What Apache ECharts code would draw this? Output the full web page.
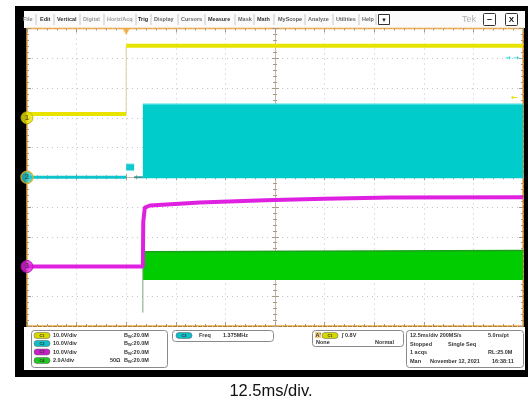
<!DOCTYPE html>
<html>
<head>
<meta charset="utf-8">
<script src="https://cdn.jsdelivr.net/npm/echarts@6/dist/echarts.min.js"></script>
<style>html,body{margin:0;padding:0;background:#fff}#c{width:530px;height:402px}</style>
</head>
<body>
<div id="c"></div>
<script>
// ---- Data (time in ms, 12.5 ms/div, trigger at t = 0) ----
const timeTicks = [-25, -12.5, 0, 12.5, 25, 37.5, 50, 62.5, 75, 87.5, 100];
// CH1 (yellow, 10 V/div)
const ch1PreTime = [-25, 0];
const ch1PreVolts = [1.3, 1.3];
const ch1PostTime = [0, 100];
const ch1PostVolts = [24.2, 24.2];
const ch1EdgeTime = [0, 0];
const ch1EdgeVolts = [1.3, 24.2];
// CH2 (cyan, 10 V/div) switching node
const ch2PreTime = [-25, 0];
const ch2PreVolts = [0, 0];
const ch2BurstTime = [0, 2];
const ch2BurstHigh = [4.4, 4.4];
const ch2BurstLow = 2.3;
const ch2GapTime = [2, 4.2];
const ch2GapVolts = [0, 0];
const ch2BandTime = [4.2, 100];
const ch2BandHigh = [24.5, 24.5];
const ch2BandLow = -0.3;
// CH3 (magenta, 10 V/div) output voltage
const ch3Time = [-25, 4.2, 4.3, 4.7, 6, 18.6, 35, 50, 66.5, 100];
const ch3Volts = [0, 0, 15, 19.8, 20.5, 21.5, 22.3, 22.8, 23.2, 23.3];
// CH4 (green, 2 A/div) current
const ch4BandTime = [4.2, 100];
const ch4BandHigh = [1.0, 1.07];
const ch4BandLow = -0.9;
const ch4SpikeTime = [4.2, 4.2];
const ch4SpikeAmps = [-3.1, 1.3];

const zip = (a, b) => a.map((v, i) => [v, b[i]]);

const tickColor = '#a89888';
const gridDot = '#c4c4c4';
const orange = '#f2a63a';

function tickAxis(extra) {
  return Object.assign({
    type: 'value', min: 0, max: 10, interval: 1,
    axisLabel: { show: false },
    axisLine: { show: false, onZero: false },
    axisTick: { show: true, inside: true, length: 4, lineStyle: { color: tickColor } },
    minorTick: { show: true, splitNumber: 5, length: 2, lineStyle: { color: tickColor } },
    splitLine: { show: false }
  }, extra);
}
function chanAxis(min, max) {
  return { type: 'value', min: min, max: max, show: false, axisLine: { onZero: false }, splitLine: { show: false } };
}

const menu = [
  ['File', 23, '#888'], ['Edit', 40, '#333'], ['Vertical', 57, '#333'], ['Digital', 83, '#999'],
  ['Horiz/Acq', 107, '#999'], ['Trig', 138, '#222'], ['Display', 154, '#666'], ['Cursors', 181, '#666'],
  ['Measure', 208, '#333'], ['Mask', 238, '#666'], ['Math', 257, '#333'], ['MyScope', 278, '#555'],
  ['Analyze', 308, '#666'], ['Utilities', 336, '#666'], ['Help', 362, '#666']
];
const seps = [36, 54, 80, 104, 136, 151, 178, 205, 235, 254, 274, 305, 333, 359, 376];

const g = [];
g.push({ type: 'rect', z: -100, shape: { x: 15, y: 6, width: 513, height: 371 }, style: { fill: '#000' } });
g.push({ type: 'rect', z: -99, shape: { x: 24, y: 11, width: 501, height: 17 }, style: { fill: '#fbfbfb' } });
g.push({ type: 'rect', z: -99, shape: { x: 24, y: 327, width: 501, height: 43 }, style: { fill: '#fff' } });
menu.forEach(m => g.push({ type: 'text', z: 10, x: m[1], y: 19.5, style: { text: m[0], fill: m[2], font: 'bold 5.5px "Liberation Sans"', verticalAlign: 'middle' } }));
seps.forEach(x => g.push({ type: 'line', z: 10, shape: { x1: x, y1: 14, x2: x, y2: 25 }, style: { stroke: '#c8c8c8', lineWidth: 1 } }));
g.push({ type: 'rect', z: 10, shape: { x: 378.5, y: 14.5, width: 11, height: 10 }, style: { fill: '#fff', stroke: '#333', lineWidth: 1 } });
g.push({ type: 'text', z: 11, x: 384, y: 20, style: { text: '▾', fill: '#222', font: '7px "DejaVu Sans"', align: 'center', verticalAlign: 'middle' } });
g.push({ type: 'text', z: 10, x: 462, y: 19.5, style: { text: 'Tek', fill: '#b0b0b0', font: '9px "Liberation Sans"', verticalAlign: 'middle' } });
g.push({ type: 'rect', z: 10, shape: { x: 483.5, y: 13.5, width: 12, height: 12, r: 1 }, style: { fill: '#fff', stroke: '#333', lineWidth: 1 } });
g.push({ type: 'text', z: 11, x: 489.5, y: 20, style: { text: '–', fill: '#111', font: 'bold 9px "Liberation Sans"', align: 'center', verticalAlign: 'middle' } });
g.push({ type: 'rect', z: 10, shape: { x: 505.5, y: 13.5, width: 12, height: 12, r: 1 }, style: { fill: '#fff', stroke: '#333', lineWidth: 1 } });
g.push({ type: 'text', z: 11, x: 511.5, y: 19.5, style: { text: 'X', fill: '#111', font: 'bold 8px "Liberation Sans"', align: 'center', verticalAlign: 'middle' } });
// right-edge indicators
g.push({ type: 'text', z: 10, x: 505, y: 58, style: { text: '→ →', fill: '#20d0e0', font: 'bold 7px "DejaVu Sans"', verticalAlign: 'middle' } });
g.push({ type: 'text', z: 10, x: 511, y: 98, style: { text: '←', fill: '#e8e000', font: 'bold 8px "DejaVu Sans"', verticalAlign: 'middle' } });
// bottom panel boxes
const box = (x, y, w, h) => g.push({ type: 'rect', z: 10, shape: { x: x + 0.5, y: y + 0.5, width: w, height: h, r: 3 }, style: { fill: '#fff', stroke: '#8a8a8a', lineWidth: 1 } });
box(31, 330, 136, 37); box(172, 330, 101, 11); box(312, 330, 91, 16); box(406, 330, 117, 37);
const txt = (x, y, t, extra) => g.push({ type: 'text', z: 12, x: x, y: y, style: Object.assign({ text: t, fill: '#333', font: 'bold 5.5px "Liberation Sans"', verticalAlign: 'middle' }, extra || {}) });
const badge = (x, y, fill, label) => {
  g.push({ type: 'rect', z: 11, shape: { x: x, y: y - 3, width: 16, height: 6, r: 3 }, style: { fill: fill, stroke: '#555', lineWidth: 0.5 } });
  g.push({ type: 'text', z: 12, x: x + 8, y: y, style: { text: label, fill: '#333', font: 'bold 4px "Liberation Sans"', align: 'center', verticalAlign: 'middle' } });
};
const bwText = (x, y) => g.push({ type: 'text', z: 12, x: x, y: y, style: { text: '{a|B}{s|W}{a|:20.0M}', verticalAlign: 'middle', rich: { a: { fill: '#333', font: 'bold 5.5px "Liberation Sans"' }, s: { fill: '#333', font: 'bold 4px "Liberation Sans"', padding: [3, 0, 0, 0] } } } });
const rows = [335.5, 343.5, 352, 360.5];
const chCols = ['#d8d800', '#10c0c8', '#c820c8', '#20c820'];
const chScale = ['10.0V/div', '10.0V/div', '10.0V/div', '2.0A/div'];
rows.forEach((y, i) => { badge(34, y, chCols[i], 'C' + (i + 1)); txt(53, y, chScale[i]); bwText(124, y); });
txt(110, 360.5, '50Ω');
badge(176, 335.5, '#10c0c8', 'C2'); txt(199, 335.5, 'Freq'); txt(223, 335.5, '1.375MHz');
g.push({ type: 'rect', z: 11, shape: { x: 315, y: 332, width: 6, height: 6 }, style: { fill: '#f4d080' } });
txt(315.5, 335.5, "A'"); badge(322, 335.5, '#d8d800', 'C1'); txt(342, 335.5, '∫ 0.8V');
txt(316, 342, 'None'); txt(375, 342, 'Normal');
txt(410, 335.5, '12.5ms/div 200MS/s'); txt(488, 335.5, '5.0ns/pt');
txt(410, 344, 'Stopped'); txt(448, 344, 'Single Seq');
txt(410, 352.5, '1 acqs'); txt(488, 352.5, 'RL:25.0M');
txt(410, 361, 'Man'); txt(430, 361, 'November 12, 2021'); txt(492, 361, '16:38:11');
// caption
g.push({ type: 'text', z: 10, x: 271, y: 391, style: { text: '12.5ms/div.', fill: '#111', font: '16.5px "Liberation Sans"', align: 'center', verticalAlign: 'middle' } });

const chart = echarts.init(document.getElementById('c'), null, { renderer: 'canvas' });
chart.setOption({
  animation: false,
  backgroundColor: '#fff',
  grid: { left: 27, top: 28.5, width: 496, height: 297.5, show: true, backgroundColor: '#fff', borderColor: orange, borderWidth: 1.5 },
  graphic: g,
  xAxis: [
    { type: 'value', min: -25, max: 100, interval: 12.5, position: 'bottom',
      axisLabel: { show: false }, axisLine: { show: false, onZero: false },
      axisTick: { show: true, inside: true, length: 4, lineStyle: { color: tickColor } },
      minorTick: { show: true, splitNumber: 5, length: 2, lineStyle: { color: tickColor } },
      splitLine: { show: true, lineStyle: { color: gridDot, type: [1, 4] } } },
    { type: 'value', min: -25, max: 100, interval: 12.5, position: 'top',
      axisLabel: { show: false }, axisLine: { show: false, onZero: false },
      axisTick: { show: true, inside: true, length: 4, lineStyle: { color: tickColor } },
      minorTick: { show: true, splitNumber: 5, length: 2, lineStyle: { color: tickColor } },
      splitLine: { show: false } },
    { type: 'value', min: -25, max: 100, interval: 12.5, position: 'bottom', offset: -148.75,
      axisLabel: { show: false }, axisLine: { show: true, onZero: false, lineStyle: { color: '#c8b8a8', width: 1 } },
      axisTick: { show: true, inside: true, length: 3, lineStyle: { color: tickColor } },
      minorTick: { show: true, splitNumber: 5, length: 2, lineStyle: { color: tickColor } },
      splitLine: { show: false } },
    { type: 'value', min: -25, max: 100, interval: 12.5, position: 'bottom', offset: -148.75,
      axisLabel: { show: false }, axisLine: { show: false, onZero: false },
      axisTick: { show: true, inside: false, length: 3, lineStyle: { color: tickColor } },
      minorTick: { show: true, splitNumber: 5, length: 2, lineStyle: { color: tickColor } },
      splitLine: { show: false } }
  ],
  yAxis: [
    tickAxis({ position: 'left', splitLine: { show: true, lineStyle: { color: gridDot, type: [1, 4] } } }),
    tickAxis({ position: 'right' }),
    tickAxis({ position: 'left', offset: -248, axisLine: { show: true, onZero: false, lineStyle: { color: '#c8b8a8', width: 1 } } }),
    chanAxis(-70, 30),   // CH1 10 V/div
    chanAxis(-50, 50),   // CH2 10 V/div
    chanAxis(-20, 80),   // CH3 10 V/div
    chanAxis(-4, 16),    // CH4 2 A/div
    tickAxis({ position: 'left', offset: -248, axisTick: { show: true, inside: false, length: 3, lineStyle: { color: tickColor } } })
  ],
  series: [
    // CH2 cyan
    { type: 'line', yAxisIndex: 4, data: zip(ch2PreTime, ch2PreVolts), symbol: 'none', lineStyle: { color: '#10c4cc', width: 3 }, z: 3 },
    { type: 'line', yAxisIndex: 4, data: zip(ch2GapTime, ch2GapVolts), symbol: 'none', lineStyle: { color: '#3a9a9a', width: 2 }, z: 3 },
    { type: 'line', yAxisIndex: 4, data: zip(ch2BurstTime, ch2BurstHigh), symbol: 'none', lineStyle: { color: '#30d0d8', width: 1 }, areaStyle: { color: '#10c8d0', opacity: 1, origin: ch2BurstLow }, z: 3 },
    { type: 'line', yAxisIndex: 4, data: zip(ch2BandTime, ch2BandHigh), symbol: 'none', lineStyle: { color: '#40dcdc', width: 1.5 }, areaStyle: { color: '#00cccc', opacity: 1, origin: ch2BandLow }, z: 3 },
    // CH1 yellow
    { type: 'line', yAxisIndex: 3, data: zip(ch1PreTime, ch1PreVolts), symbol: 'none', lineStyle: { color: '#e8e400', width: 4 }, z: 4 },
    { type: 'line', yAxisIndex: 3, data: zip(ch1EdgeTime, ch1EdgeVolts), symbol: 'none', lineStyle: { color: '#d8d0a0', width: 1 }, z: 4 },
    { type: 'line', yAxisIndex: 3, data: zip(ch1PostTime, ch1PostVolts), symbol: 'none', lineStyle: { color: '#e8e400', width: 4 }, z: 4 },
    // CH4 green
    { type: 'line', yAxisIndex: 6, data: zip(ch4BandTime, ch4BandHigh), symbol: 'none', lineStyle: { color: '#1aa01a', width: 1.5 }, areaStyle: { color: '#00cc00', opacity: 1, origin: ch4BandLow }, z: 4 },
    { type: 'line', yAxisIndex: 6, data: zip(ch4SpikeTime, ch4SpikeAmps), symbol: 'none', lineStyle: { color: '#7aa87a', width: 1 }, z: 4 },
    // CH3 magenta
    { type: 'line', yAxisIndex: 5, data: zip(ch3Time, ch3Volts), symbol: 'none', lineStyle: { color: '#e020e0', width: 4 }, z: 5 },
    // channel ground markers
    { type: 'scatter', yAxisIndex: 5, data: [[-25, 0]], symbolSize: 12, clip: false, itemStyle: { color: '#e020e0', borderColor: '#b010b0', borderWidth: 1 }, label: { show: true, formatter: '3', color: '#333', fontSize: 7, fontWeight: 'bold' }, z: 8 },
    { type: 'scatter', yAxisIndex: 4, data: [[-25, 0]], symbolSize: 12, clip: false, itemStyle: { color: '#20c8d0', borderColor: '#e0b020', borderWidth: 1.5 }, label: { show: true, formatter: '2', color: '#333', fontSize: 7, fontWeight: 'bold' }, z: 8 },
    { type: 'scatter', yAxisIndex: 3, data: [[-25, 0]], symbolSize: 12, clip: false, itemStyle: { color: '#e8e400', borderColor: '#c0a800', borderWidth: 1 }, label: { show: true, formatter: '1', color: '#333', fontSize: 7, fontWeight: 'bold' }, z: 8 },
    // trigger position marker
    { type: 'scatter', yAxisIndex: 0, data: [[0, 10]], symbol: 'triangle', symbolRotate: 180, symbolSize: [8, 7], symbolOffset: [0, 3], clip: false, itemStyle: { color: orange }, z: 8 }
  ]
});
</script>
</body>
</html>
